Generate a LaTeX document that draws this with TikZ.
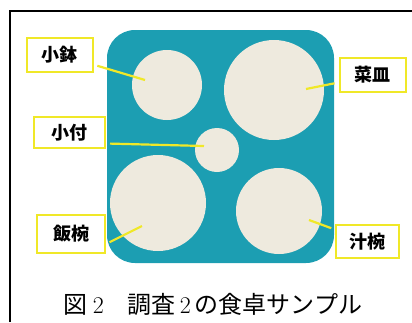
\documentclass[tikz,border=0pt]{standalone}
\usepackage{fontspec}
\usepackage{xcolor}
\usepackage{tikz}
\usetikzlibrary{positioning,calc}
\newfontfamily\jpfont{Noto Sans CJK JP}

\definecolor{trayteal}{RGB}{28,158,178}
\definecolor{platecream}{RGB}{238,234,222}
\definecolor{markyellow}{RGB}{240,232,40}

\begin{document}
\begin{tikzpicture}[x=1pt,y=-1pt,
  plate/.style={circle,fill=platecream,inner sep=0pt},
  tag/.style={draw=markyellow,line width=2pt,fill=white,minimum width=66pt,minimum height=34pt,inner sep=0pt,font=\jpfont\bfseries\fontsize{18}{18}\selectfont},
  pointer/.style={draw=markyellow,line width=2.2pt,shorten <=4pt}]

\useasboundingbox (0,0) rectangle (412,322);

%Frame
\draw[line width=2pt] (10,322) -- (10,11) -- (412,11);

% Tray
\fill[trayteal,rounded corners=28pt] (107,30) rectangle (334,263);

% Plates
\node[plate,minimum size=70pt] (kobachi) at (167,85) {};
\node[plate,minimum size=100pt] (saizara) at (274,90) {};
\node[plate,minimum size=44pt] (kotsuke) at (217,150) {};
\node[plate,minimum size=96pt] (meshiwan) at (158,203) {};
\node[plate,minimum size=86pt] (shiruwan) at (279,211) {};

% Labels
\node[tag] (kobachi-tag) at (59.5,54.5) {小鉢};
\node[tag,minimum width=71pt,minimum height=31pt] (kotsuke-tag) at (69.5,132.5) {小付};
\node[tag] (saizara-tag) at (372.5,74.5) {菜皿};
\node[tag,minimum width=68pt,minimum height=38pt] (meshiwan-tag) at (71,234) {飯椀};
\node[tag,minimum width=63pt,minimum height=33pt] (shiruwan-tag) at (367.5,241.5) {汁椀};

% Pointer tips
\coordinate (kobachi-tip) at (145,80);
\coordinate (kotsuke-tip) at (204,146);
\coordinate (saizara-tip) at (306,89);
\coordinate (meshiwan-tip) at (142,226);
\coordinate (shiruwan-tip) at (309,220);

% Connections
\draw[pointer] (kobachi-tag) -- (kobachi-tip);
\draw[pointer] ([yshift=-11pt]kotsuke-tag.east) -- (kotsuke-tip);
\draw[pointer] ([yshift=-8pt]saizara-tag.west) -- (saizara-tip);
\draw[pointer] ([yshift=-10pt]meshiwan-tag.east) -- (meshiwan-tip);
\draw[pointer] (shiruwan-tag) -- (shiruwan-tip);

% Caption
\node[font=\fontsize{24}{24}\selectfont] (caption) at (213,304) {{\jpfont 図}\kern5pt 2\hspace{1em}{\jpfont 調査}\kern4pt 2\kern4pt{\jpfont の食卓サンプル}};

\end{tikzpicture}
\end{document}
